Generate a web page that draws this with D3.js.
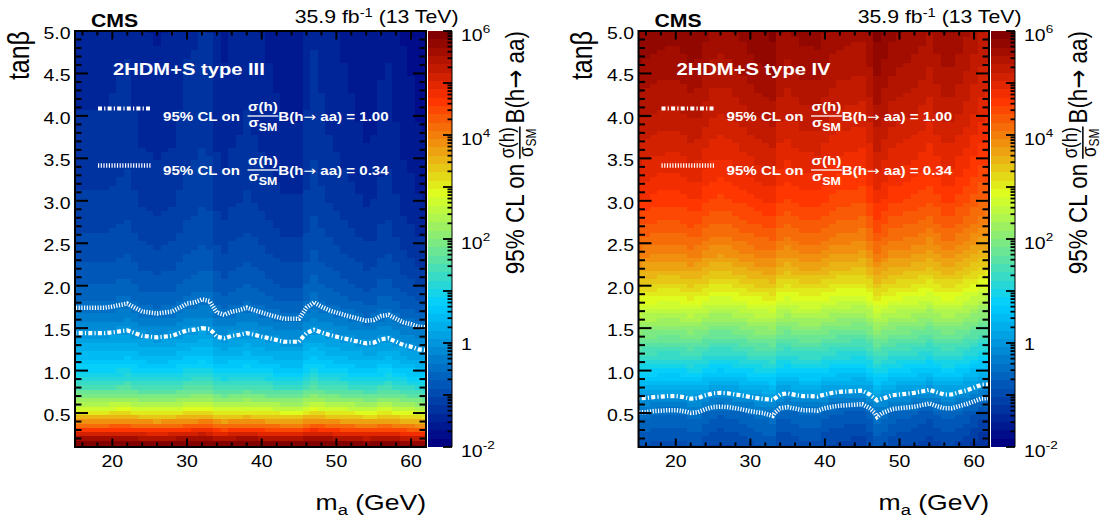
<!DOCTYPE html>
<html>
<head>
<meta charset="utf-8">
<title>2HDM+S limits on sigma/sigma_SM B(h->aa)</title>
<script src="https://cdn.jsdelivr.net/npm/d3@7/dist/d3.min.js"></script>
<style>
  html, body { margin: 0; padding: 0; background: #ffffff; }
  svg { display: block; }
  text { font-family: "Liberation Sans", Arial, Helvetica, sans-serif; }
  .arrow { font-family: "DejaVu Sans", sans-serif; font-weight: normal; }
</style>
</head>
<body>
<svg id="chart" width="1105" height="520"></svg>
<script>
// ---------------------------------------------------------------- data
// mass bin centres (GeV), bins 1 GeV wide
const massPoints = d3.range(15, 63);
// tan(beta) bin centres, bins 0.05 wide
const tanbPoints = d3.range(99).map(i => Math.round((0.10 + 0.05 * i) * 100) / 100);
const massRange = [15, 62];
const tanbRange = [0.1, 5.0];

// log10 of the 95% CL limit on sigma(h)/sigma_SM B(h->aa) versus tan(beta)
const profileIII = [
  6.40, 6.00, 5.52, 5.06, 4.62, 4.20, 3.80, 3.42, 3.07, 2.74,
  2.43, 2.15, 1.90, 1.67, 1.46, 1.27, 1.10, 0.95, 0.81, 0.69,
  0.58, 0.48, 0.385, 0.30, 0.21, 0.12, 0.035, -0.05, -0.14, -0.23,
  -0.315, -0.39, -0.455, -0.515, -0.57, -0.62, -0.665, -0.705, -0.74, -0.775,
  -0.81, -0.84, -0.87, -0.90, -0.93, -0.955, -0.98, -1.00, -1.02, -1.04,
  -1.06, -1.08, -1.10, -1.12, -1.14, -1.155, -1.17, -1.185, -1.20, -1.215,
  -1.23, -1.24, -1.25, -1.26, -1.27, -1.28, -1.29, -1.30, -1.31, -1.32,
  -1.33, -1.34, -1.345, -1.35, -1.36, -1.365, -1.37, -1.38, -1.385, -1.39,
  -1.395, -1.40, -1.405, -1.41, -1.415, -1.42, -1.425, -1.43, -1.435, -1.44,
  -1.445, -1.45, -1.455, -1.46, -1.465, -1.47, -1.475, -1.48, -1.485
];
const profileIV = [
  -0.97, -0.92, -0.87, -0.82, -0.77, -0.72, -0.67, -0.62, -0.56, -0.43,
  -0.29, -0.145, 0.00, 0.145, 0.29, 0.435, 0.57, 0.70, 0.83, 0.96,
  1.09, 1.21, 1.33, 1.45, 1.57, 1.69, 1.81, 1.93, 2.05, 2.17,
  2.29, 2.41, 2.53, 2.65, 2.77, 2.88, 2.99, 3.10, 3.21, 3.31,
  3.41, 3.51, 3.60, 3.69, 3.78, 3.86, 3.94, 4.01, 4.08, 4.14,
  4.20, 4.26, 4.32, 4.37, 4.42, 4.47, 4.52, 4.57, 4.62, 4.66,
  4.70, 4.74, 4.78, 4.82, 4.86, 4.90, 4.94, 4.97, 5.00, 5.03,
  5.06, 5.09, 5.12, 5.15, 5.18, 5.21, 5.24, 5.27, 5.30, 5.33,
  5.35, 5.38, 5.40, 5.43, 5.45, 5.48, 5.50, 5.52, 5.55, 5.57,
  5.59, 5.61, 5.63, 5.65, 5.67, 5.69, 5.71, 5.73, 5.75
];
// per-mass offset (log10) of the limit, m_a = 15 ... 62 GeV
const shiftIII = [
  0.035, 0.035, 0.035, 0.035, 0.035, 0.05, 0.07, 0.09, 0.035, -0.02,
  -0.035, -0.05, -0.035, -0.02, 0.035, 0.09, 0.105, 0.14, 0.12, -0.035,
  -0.07, -0.02, 0.0, 0.035, 0.0, -0.035, -0.07, -0.105, -0.14, -0.14,
  -0.14, 0.035, 0.105, 0.05, 0.0, -0.035, -0.07, -0.105, -0.14, -0.175,
  -0.16, -0.09, -0.07, -0.14, -0.21, -0.245, -0.30, -0.315
];
const shiftIV = [
  0.07, 0.06, 0.03, 0.015, 0.0, 0.0, 0.03, 0.085, 0.06, -0.03,
  -0.10, -0.115, -0.10, -0.06, -0.015, 0.03, 0.07, 0.10, 0.13, -0.06,
  -0.10, -0.045, 0.0, 0.0, 0.015, -0.06, -0.115, -0.145, -0.16, -0.175,
  -0.19, -0.06, 0.145, 0.06, -0.03, -0.06, -0.085, -0.115, -0.16, -0.22,
  -0.13, -0.06, -0.06, -0.13, -0.20, -0.29, -0.39, -0.405
];

const models = ["2HDM+S type III", "2HDM+S type IV"];
const clLevels = [1.00, 0.34];
const clLabels = ["1.00", "0.34"];
const massTicks = [20, 30, 40, 50, 60];
const tanbTicks = [0.5, 1.0, 1.5, 2.0, 2.5, 3.0, 3.5, 4.0, 4.5, 5.0];
const tanbTickLabels = ["0.5", "1.0", "1.5", "2.0", "2.5", "3.0", "3.5", "4.0", "4.5", "5.0"];
const zRange = [1e-2, 1e6];
const zTicks = [1e-2, 1, 1e2, 1e4, 1e6];
const zTickExp = ["-2", null, "2", "4", "6"];

// ---------------------------------------------------------------- style
const SX = 1.18;                 // horizontal text stretch
const Y_TOP = 31, Y_BOT = 447;
const NCOL = 50;                 // number of palette colours
const palette = d3.scaleLinear()
  .domain([0, 0.34, 0.61, 0.84, 1])
  .range(["rgb(0,0,130)", "rgb(0,207,255)", "rgb(222,255,31)", "rgb(255,51,0)", "rgb(130,0,0)"])
  .interpolate(d3.interpolateRgb);
const zFrac = d3.scaleLog().domain(zRange).range([0, 1]).clamp(true);
function zColor(v) {
  const k = Math.min(NCOL - 1, Math.floor(zFrac(v) * NCOL));
  return palette(k / (NCOL - 1));
}

const panels = [
  { left: 75,    right: 426, model: models[0], profile: profileIII, shift: shiftIII },
  { left: 638.5, right: 989, model: models[1], profile: profileIV,  shift: shiftIV }
];
const contourStyles = [
  { width: 4.2, dash: "4,2.2,1.2,2.2" },
  { width: 4.5, dash: "1.2,1.5" }
];

const svg = d3.select("#chart");
const defs = svg.append("defs");

function label(parent, x, y, str, o = {}) {
  const t = parent.append("text")
    .attr("transform", `translate(${x},${y}) scale(${SX},1)` + (o.rotate ? " rotate(-90)" : ""))
    .attr("font-size", o.size || 16)
    .attr("font-weight", o.weight || "normal")
    .attr("text-anchor", o.anchor || "start")
    .attr("fill", o.fill || "#000");
  if (str != null) t.text(str);
  return t;
}

// "95% CL on sigma(h)/sigma_SM B(h-> aa) ..." with a stacked fraction
function clText(parent, x, y, suffix, o) {
  const outer = parent.append("g")
    .attr("transform", `translate(${x},${y}) scale(${SX},1)` + (o.rotate ? " rotate(-90)" : ""));
  const g = outer.append("g");
  const st = t => t.attr("font-weight", o.weight).attr("fill", o.fill);
  const head = st(g.append("text").attr("font-size", o.size).text("95% CL on"));
  const fx = head.node().getComputedTextLength() + o.gap;
  const num = st(g.append("text").attr("font-size", o.fracSize).attr("y", o.numDy).text("σ(h)"));
  const den = st(g.append("text").attr("font-size", o.fracSize).attr("y", o.denDy));
  den.append("tspan").text("σ");
  den.append("tspan").attr("font-size", o.subSize).attr("dy", o.subDy).text("SM");
  const wn = num.node().getComputedTextLength();
  const wd = den.node().getComputedTextLength();
  const fw = Math.max(wn, wd) + 1;
  num.attr("x", fx + (fw - wn) / 2);
  den.attr("x", fx + (fw - wd) / 2);
  g.append("line")
    .attr("x1", fx).attr("x2", fx + fw)
    .attr("y1", o.barDy).attr("y2", o.barDy)
    .attr("stroke", o.fill).attr("stroke-width", o.barW);
  const tx = fx + fw + o.gap2;
  const tl = st(g.append("text").attr("font-size", o.size).attr("x", tx));
  tl.append("tspan").text("B(h");
  tl.append("tspan").attr("class", "arrow").text("→");
  tl.append("tspan").text(" aa)" + suffix);
  const total = tx + tl.node().getComputedTextLength();
  if (o.alignEnd) g.attr("transform", `translate(${-total},0)`);
  return outer;
}

panels.forEach((p, pi) => {
  const g = svg.append("g");
  const x = d3.scaleLinear().domain(massRange).range([p.left, p.right]);
  const y = d3.scaleLinear().domain(tanbRange).range([Y_BOT, Y_TOP]);
  const dm = massPoints[1] - massPoints[0];
  const dt = tanbPoints[1] - tanbPoints[0];

  const clipId = "plotclip" + pi;
  defs.append("clipPath").attr("id", clipId).append("rect")
    .attr("x", p.left).attr("y", Y_TOP)
    .attr("width", p.right - p.left).attr("height", Y_BOT - Y_TOP);

  // limit grid
  const nx = massPoints.length, ny = tanbPoints.length;
  const values = new Array(nx * ny);
  const cells = [];
  tanbPoints.forEach((t, j) => {
    massPoints.forEach((m, i) => {
      const v = Math.pow(10, p.profile[j] + p.shift[i]);
      values[i + j * nx] = v;
      cells.push({ m, t, v });
    });
  });

  const plot = g.append("g").attr("clip-path", `url(#${clipId})`);
  plot.append("g").selectAll("rect").data(cells).join("rect")
    .attr("x", d => x(d.m - dm / 2))
    .attr("width", d => x(d.m + dm / 2) - x(d.m - dm / 2))
    .attr("y", d => y(d.t + dt / 2))
    .attr("height", d => y(d.t - dt / 2) - y(d.t + dt / 2))
    .attr("fill", d => zColor(d.v))
    .attr("shape-rendering", "crispEdges");

  // iso-limit contours
  const gridToPlot = d3.geoTransform({
    point(px, py) {
      this.stream.point(x(massPoints[0] + (px - 0.5) * dm), y(tanbPoints[0] + (py - 0.5) * dt));
    }
  });
  const path = d3.geoPath(gridToPlot);
  const contours = d3.contours().size([nx, ny]).thresholds(clLevels)(values);
  clLevels.forEach((lv, li) => {
    const c = contours.find(cc => cc.value === lv);
    plot.append("path")
      .attr("d", path(c))
      .attr("fill", "none")
      .attr("stroke", "#fff")
      .attr("stroke-width", contourStyles[li].width)
      .attr("stroke-dasharray", contourStyles[li].dash);
  });

  // frame and ticks
  const axes = g.append("g").attr("stroke", "#000").attr("stroke-width", 2);
  const xMinor = d3.range(16, 63, 2).filter(v => v % 10 !== 0);
  const yMinor = d3.range(1, 51).map(v => v / 10).filter(v => Math.round(v * 10) % 5 !== 0);
  const tickLines = [];
  massTicks.forEach(v => { tickLines.push([x(v), Y_BOT, x(v), Y_BOT - 8.5]); tickLines.push([x(v), Y_TOP, x(v), Y_TOP + 8.5]); });
  xMinor.forEach(v => { tickLines.push([x(v), Y_BOT, x(v), Y_BOT - 4.5]); tickLines.push([x(v), Y_TOP, x(v), Y_TOP + 4.5]); });
  tanbTicks.forEach(v => { tickLines.push([p.left, y(v), p.left + 13, y(v)]); tickLines.push([p.right, y(v), p.right - 13, y(v)]); });
  yMinor.forEach(v => { tickLines.push([p.left, y(v), p.left + 6.5, y(v)]); tickLines.push([p.right, y(v), p.right - 6.5, y(v)]); });
  axes.selectAll("line").data(tickLines).join("line")
    .attr("x1", d => d[0]).attr("y1", d => d[1]).attr("x2", d => d[2]).attr("y2", d => d[3]);
  axes.append("rect")
    .attr("x", p.left).attr("y", Y_TOP)
    .attr("width", p.right - p.left).attr("height", Y_BOT - Y_TOP)
    .attr("fill", "none");

  // tick labels
  massTicks.forEach(v => label(g, x(v), 466.5, String(v), { size: 16.5, anchor: "middle" }));
  tanbTicks.forEach((v, i) => label(g, p.left - 4.5, y(v) + 8, tanbTickLabels[i], { size: 16.5, anchor: "end" }));

  // axis titles
  const xt = label(g, p.right, 510, null, { size: 22.5, anchor: "end" });
  xt.append("tspan").text("m");
  xt.append("tspan").attr("font-size", 15.5).attr("dy", 5).text("a");
  xt.append("tspan").attr("dy", -5).text(" (GeV)");
  label(g, p.left - 46.5, Y_TOP, "tanβ", { size: 25, anchor: "end", rotate: true });

  // colour bar
  const cbL = p.right + 2, cbR = cbL + 24;
  const zy = d3.scaleLog().domain(zRange).range([Y_BOT, Y_TOP]);
  const lz0 = Math.log10(zRange[0]), lz1 = Math.log10(zRange[1]);
  const steps = d3.range(NCOL).map(k => ({
    lo: Math.pow(10, lz0 + (lz1 - lz0) * k / NCOL),
    hi: Math.pow(10, lz0 + (lz1 - lz0) * (k + 1) / NCOL),
    c: palette(k / (NCOL - 1))
  }));
  g.append("g").selectAll("rect").data(steps).join("rect")
    .attr("x", cbL).attr("width", cbR - cbL)
    .attr("y", d => zy(d.hi)).attr("height", d => zy(d.lo) - zy(d.hi))
    .attr("fill", d => d.c)
    .attr("shape-rendering", "crispEdges");
  const zMajor = d3.range(lz0, lz1 + 1).map(e => Math.pow(10, e));
  const zMinor = [];
  d3.range(lz0, lz1).forEach(e => d3.range(2, 10).forEach(m => zMinor.push(m * Math.pow(10, e))));
  const cbTicks = g.append("g").attr("stroke", "#000").attr("stroke-width", 1.8);
  cbTicks.selectAll("line.maj").data(zMajor).join("line").attr("class", "maj")
    .attr("x1", cbR).attr("x2", cbR - 9).attr("y1", d => zy(d)).attr("y2", d => zy(d));
  cbTicks.selectAll("line.min").data(zMinor).join("line").attr("class", "min")
    .attr("x1", cbR).attr("x2", cbR - 4.5).attr("y1", d => zy(d)).attr("y2", d => zy(d));
  cbTicks.append("line").attr("x1", cbR).attr("x2", cbR).attr("y1", Y_TOP).attr("y2", Y_BOT).attr("stroke-width", 1);
  zTicks.forEach((v, i) => {
    if (zTickExp[i] === null) {
      label(g, cbR + 9, zy(v) + 6.5, "1", { size: 16.5 });
    } else {
      const t = label(g, cbR + 9, zy(v) + 9.5, null, { size: 16.5 });
      t.append("tspan").text("10");
      t.append("tspan").attr("font-size", 11.5).attr("dy", -7.5).text(zTickExp[i]);
    }
  });
  clText(g, cbR + 72, Y_TOP, "", {
    rotate: true, alignEnd: true, size: 22.5, fracSize: 17, subSize: 12, weight: "normal", fill: "#000",
    gap: 5, gap2: 3, numDy: -8.5, denDy: 7.5, subDy: 3, barDy: -3.5, barW: 1.3
  });

  // header texts
  label(g, p.left + 16, 26.5, "CMS", { size: 18, weight: "bold" });
  const lumi = label(g, p.right + 32.5, 23.3, null, { size: 18, anchor: "end" });
  lumi.append("tspan").text("35.9 fb");
  lumi.append("tspan").attr("font-size", 12.5).attr("dy", -6.8).text("-1");
  lumi.append("tspan").attr("dy", 6.8).text(" (13 TeV)");

  // model name and legend
  label(g, p.left + 38, 75, p.model, { size: 17.1, weight: "bold", fill: "#fff" });
  const legY = [[108.5, 120.5], [165.5, 174.5]];
  clLevels.forEach((lv, li) => {
    g.append("line")
      .attr("x1", p.left + 23).attr("x2", p.left + 76)
      .attr("y1", legY[li][0]).attr("y2", legY[li][0])
      .attr("stroke", "#fff")
      .attr("stroke-width", contourStyles[li].width)
      .attr("stroke-dasharray", contourStyles[li].dash);
    clText(g, p.left + 88, legY[li][1], " = " + clLabels[li], {
      rotate: false, alignEnd: false, size: 12.8, fracSize: 12.8, subSize: 10.5, weight: "bold", fill: "#fff",
      gap: 6.5, gap2: 0, numDy: -9.5, denDy: 6, subDy: 5, barDy: -4.5, barW: 1.3
    });
  });
});
</script>
</body>
</html>
